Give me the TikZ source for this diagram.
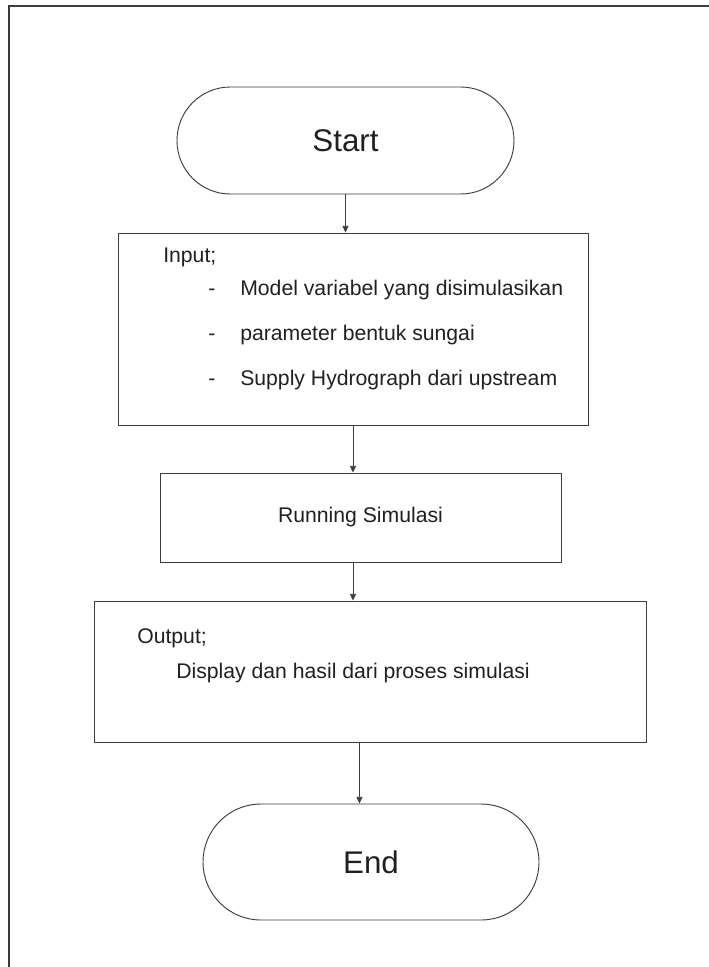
\documentclass[tikz,border=0pt]{standalone}
\usepackage{fontspec}
\setmainfont{Liberation Sans}
\usetikzlibrary{arrows.meta, positioning}
\definecolor{linegray}{HTML}{3C3C3C}
\definecolor{textblack}{HTML}{231F20}

\begin{document}
\begin{tikzpicture}[x=0.75pt, y=-0.75pt,
        every node/.style={text=textblack},
        terminal/.style={draw=linegray, line width=0.7pt, rounded corners=#1,
              font=\fontsize{23.5}{28}\selectfont, inner sep=0pt},
        process/.style={draw=linegray, line width=0.7pt, inner sep=0pt,
              font=\fontsize{15.9}{18}\selectfont},
        label/.style={anchor=base west, inner sep=0pt,
              font=\fontsize{15.9}{18}\selectfont},
        flow/.style={draw=linegray, line width=0.6pt,
              -{Triangle[length=5pt, width=4.5pt]}}]
        \useasboundingbox (0,0) rectangle (709,967);

        % Frame
        \draw[linegray, line width=1.1pt] (9,967) -- (9,6) -- (709,6);

        % Add the steps
        \node[terminal=40pt,
              minimum width=252.75pt,
              minimum height=80.25pt] (start) at (345.5,140.5) {Start};
        \node[process,
              minimum width=352.5pt,
              minimum height=144pt] (input) at (353,329) {};
        \node[process,
              minimum width=300.75pt,
              minimum height=66.75pt] (run) at (360.5,517.5) {Running Simulasi};
        \node[process,
              minimum width=414pt,
              minimum height=105.75pt] (out) at (370,671.5) {};
        \node[terminal=43.5pt,
              minimum width=252pt,
              minimum height=87pt] (end) at (371,862) {End};

        % Texts inside the boxes
        \node[label] (intitle) at (163,262) {Input;};
        \foreach \name/\ypos/\txt in {model/295/Model variabel yang disimulasikan,
                                     param/340/parameter bentuk sungai,
                                     supply/385/Supply Hydrograph dari upstream} {
            \node[label] (dash\name) at (208,\ypos) {-};
            \node[label] (\name) at (240,\ypos) {\txt};
        }
        \node[label] (outtitle) at (137,643) {Output;};
        \node[label] (display) at (176,678) {Display dan hasil dari proses simulasi};

        % Connect the steps with arrows
        \draw[flow] (start.south) -- (start.south |- input.north);
        \draw[flow] (input.south) -- (input.south |- run.north);
        \draw[flow] (input.south |- run.south) -- (input.south |- out.north);
        \draw[flow] ([xshift=-7.9pt]out.south) -- ([xshift=-7.9pt]out.south |- end.north);
    \end{tikzpicture}
\end{document}
